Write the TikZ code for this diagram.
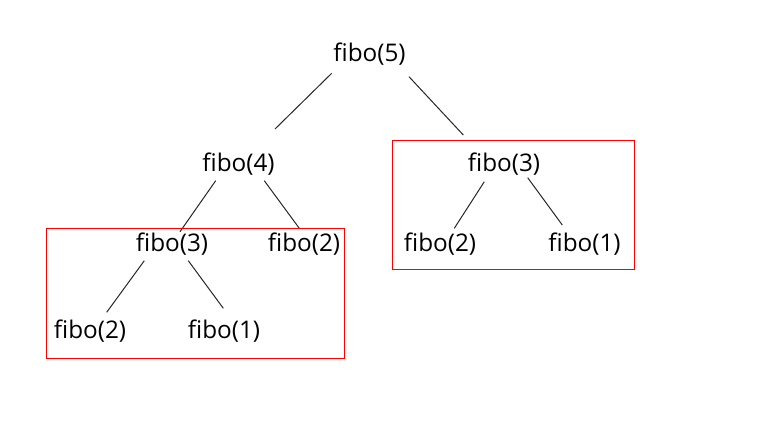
\documentclass[tikz,border=0pt]{standalone}
\usepackage{fontspec}
\setmainfont{Open Sans}
\begin{document}
\begin{tikzpicture}[x=1pt,y=-1pt,
  lbl/.style={inner sep=0pt,font=\fontsize{24.3}{28}\selectfont},
  edge/.style={line width=1pt,black!85},
  redbox/.style={draw=red,line width=1pt}]
\useasboundingbox (0,0) rectangle (772,432);
\node[lbl] (f5) at (369.5,54) {fibo(5)};
\node[lbl] (f4) at (238.5,164) {fibo(4)};
\node[lbl] (f3a) at (172,244) {fibo(3)};
\node[lbl] (f2a) at (304,244) {fibo(2)};
\node[lbl] (f2b) at (90,331) {fibo(2)};
\node[lbl] (f1a) at (224,331) {fibo(1)};
\node[lbl] (f3b) at (504,164) {fibo(3)};
\node[lbl] (f2c) at (440,244) {fibo(2)};
\node[lbl] (f1b) at (584.5,244) {fibo(1)};
\draw[edge] ([shift={(-37.8,19.3)}]f5.center) -- ([shift={(36.5,-35)}]f4.center);
\draw[edge] ([shift={(39.5,22.7)}]f5.center) -- ([shift={(-40.7,-29)}]f3b.center);
\draw[edge] ([shift={(-22.8,16.7)}]f4.center) -- ([shift={(8,-12.3)}]f3a.center);
\draw[edge] ([shift={(25.8,16.7)}]f4.center) -- ([shift={(-4.7,-15.7)}]f2a.center);
\draw[edge] ([shift={(-27.7,16.7)}]f3a.center) -- ([shift={(16.7,-18.7)}]f2b.center);
\draw[edge] ([shift={(16.3,16.7)}]f3a.center) -- ([shift={(-0.7,-22.7)}]f1a.center);
\draw[edge] ([shift={(-19.7,17.7)}]f3b.center) -- ([shift={(14.3,-15.7)}]f2c.center);
\draw[edge] ([shift={(23.7,13.7)}]f3b.center) -- ([shift={(-22.2,-19)}]f1b.center);
\draw[redbox] (46.7,228.3) rectangle (344.3,358.3);
\draw[redbox] (392.3,140.7) rectangle (634.3,269);
\end{tikzpicture}
\end{document}
